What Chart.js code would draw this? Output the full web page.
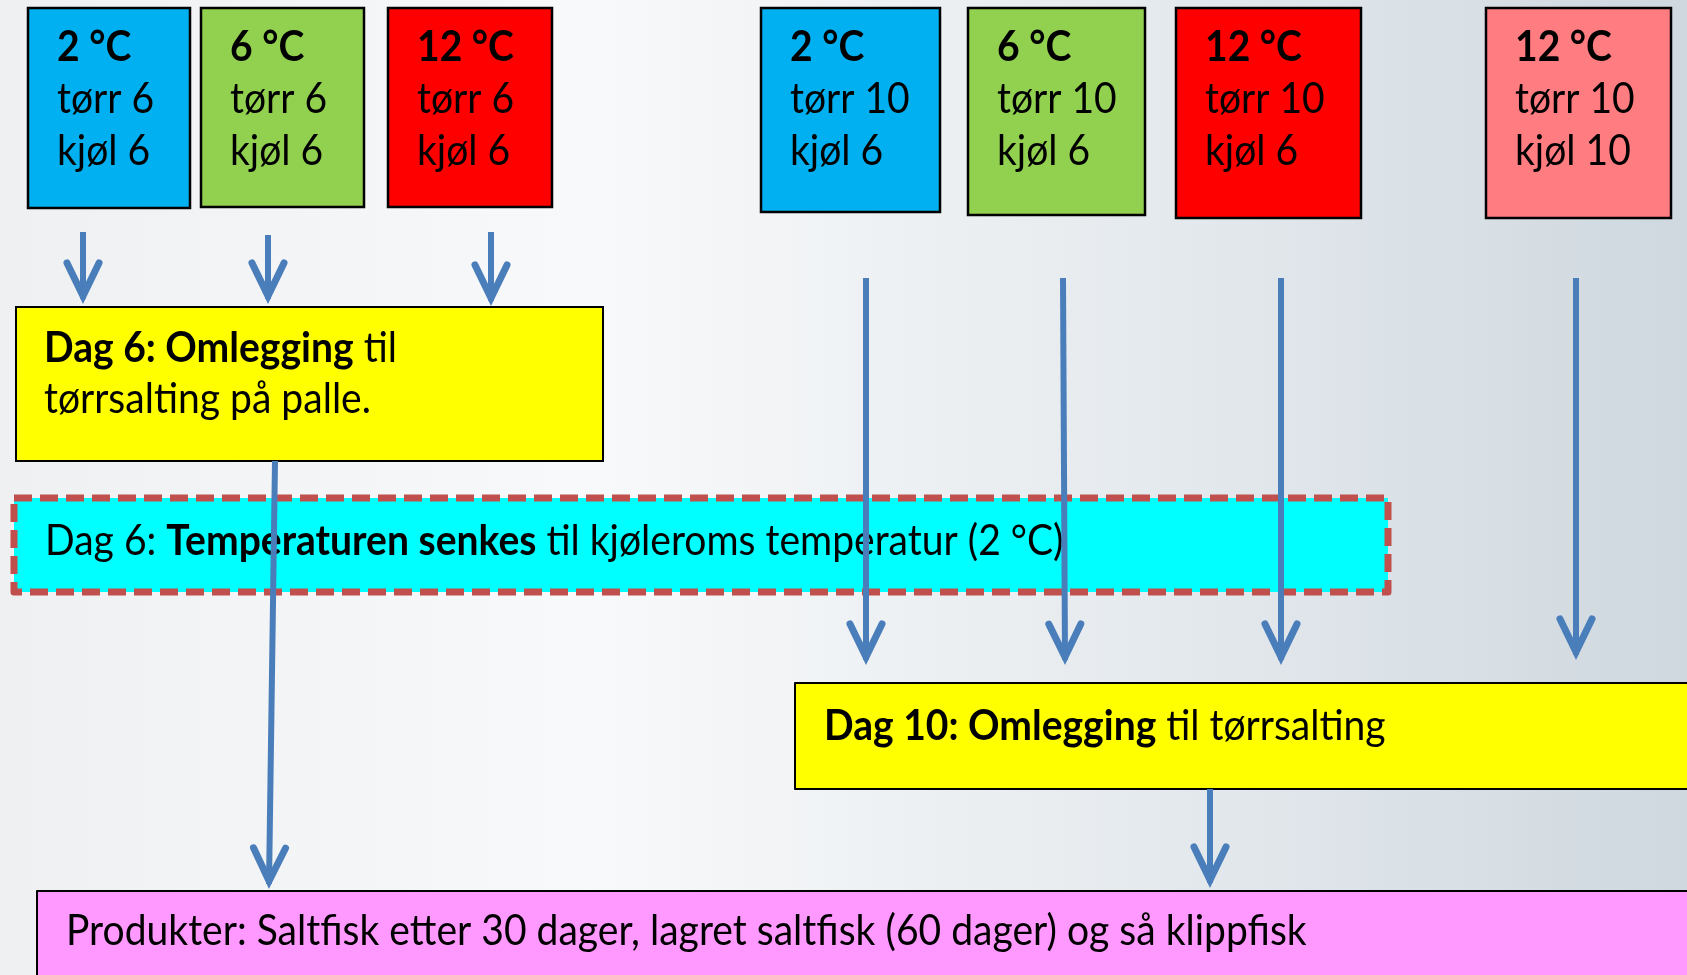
<!DOCTYPE html>
<html>
<head>
<meta charset="utf-8">
<script src="https://cdn.jsdelivr.net/npm/chart.js@4.4.1/dist/chart.umd.min.js"></script>
<style>
html, body { margin: 0; padding: 0; width: 1687px; height: 975px; overflow: hidden; background: #f3f5f7; }
canvas { display: block; }
</style>
</head>
<body>
<canvas id="flyt" width="1687" height="975"></canvas>
<script>
// Data: temperatur og dager i hvert forsøk
const temperaturer = ['2 °C', '6 °C', '12 °C', '2 °C', '6 °C', '12 °C', '12 °C'];
const torrDager = [6, 6, 6, 10, 10, 10, 10];
const kjolDager = [6, 6, 6, 6, 6, 6, 10];

// Tekst i stegene (b = fet skrift)
const omlegging6 = [
    [{ t: 'Dag 6: Omlegging', b: true }, { t: ' til', b: false }],
    [{ t: 'tørrsalting på palle.', b: false }]
];
const senking = [
    [{ t: 'Dag 6: ', b: false }, { t: 'Temperaturen senkes', b: true }, { t: ' til kjøleroms temperatur (2 °C)', b: false }]
];
const omlegging10 = [
    [{ t: 'Dag 10: Omlegging', b: true }, { t: ' til tørrsalting', b: false }]
];
const produkter = [
    [{ t: 'Produkter: Saltfisk etter 30 dager, lagret saltfisk (60 dager) og så klippfisk', b: false }]
];

// Plassering (diagram-koordinater, 1687 x 975)
const forsokFarger = ['#00B0F0', '#92D050', '#FF0000', '#00B0F0', '#92D050', '#FF0000', '#FF7C80'];
const forsokX0 = [28, 201, 388, 761, 968, 1176, 1486];
const forsokX1 = [190, 364, 552, 940, 1145, 1361, 1671];
const forsokY1 = [208, 207, 207, 212, 215, 218, 218];

const steg = [
    { linjer: omlegging6, x0: 16, x1: 603, y0: 307, y1: 461, fyll: '#FFFF00', tx: 44, ty: 348 },
    { linjer: senking, x0: 14, x1: 1388, y0: 498, y1: 592, fyll: '#00FFFF', tx: 45, ty: 541, stiplet: true },
    { linjer: omlegging10, x0: 795, x1: 1700, y0: 683, y1: 789, fyll: '#FFFF00', tx: 824, ty: 726 },
    { linjer: produkter, x0: 37, x1: 1700, y0: 891, y1: 990, fyll: '#FF99FF', tx: 66, ty: 931 }
];

// Piler: [x start, y start, x slutt, y slutt]
const piler = [
    [83, 232, 83, 303], [268, 235, 268, 303], [491, 232, 491, 305],
    [275, 461, 269, 888],
    [866, 278, 866, 664], [1063, 278, 1065, 664], [1281, 278, 1281, 664], [1576, 278, 1576, 659],
    [1210, 789, 1210, 887]
];

const FONT = 'Lato, "Open Sans", sans-serif';
const STR = 42;
const SMAL = 0.93;
const PILFARGE = '#4A7EBB';

function tegnLinje(ctx, deler, x, y, str) {
    ctx.save();
    ctx.translate(x, y);
    ctx.scale(SMAL, 1);
    ctx.textBaseline = 'middle';
    ctx.fillStyle = '#000';
    let dx = 0;
    deler.forEach(d => {
        ctx.font = (d.b ? 'bold ' : '') + str + 'px ' + FONT;
        ctx.fillText(d.t, dx, 0);
        dx += ctx.measureText(d.t).width;
    });
    ctx.restore();
}

const bakgrunn = {
    id: 'bakgrunn',
    beforeDraw(chart) {
        const ctx = chart.ctx;
        const g = ctx.createLinearGradient(0, 0, chart.width, 0);
        g.addColorStop(0, '#eef0f2');
        g.addColorStop(0.35, '#f8f9fa');
        g.addColorStop(0.7, '#e4e9ed');
        g.addColorStop(1, '#cfd8df');
        ctx.save();
        ctx.fillStyle = g;
        ctx.fillRect(0, 0, chart.width, chart.height);
        ctx.restore();
    }
};

const bokser = {
    id: 'bokser',
    beforeDatasetsDraw(chart) {
        const ctx = chart.ctx;
        const sx = chart.scales.x, sy = chart.scales.y;
        ctx.save();

        // Forsøksboksene øverst
        temperaturer.forEach((temp, i) => {
            const x0 = sx.getPixelForValue(forsokX0[i]);
            const x1 = sx.getPixelForValue(forsokX1[i]);
            const y0 = sy.getPixelForValue(8);
            const y1 = sy.getPixelForValue(forsokY1[i]);
            ctx.fillStyle = forsokFarger[i];
            ctx.fillRect(x0, y0, x1 - x0, y1 - y0);
            ctx.lineWidth = 2.5;
            ctx.strokeStyle = '#000';
            ctx.strokeRect(x0, y0, x1 - x0, y1 - y0);
            const tx = x0 + 29;
            tegnLinje(ctx, [{ t: temp, b: true }], tx, sy.getPixelForValue(47), STR);
            tegnLinje(ctx, [{ t: 'tørr ' + torrDager[i], b: false }], tx, sy.getPixelForValue(99), STR);
            tegnLinje(ctx, [{ t: 'kjøl ' + kjolDager[i], b: false }], tx, sy.getPixelForValue(151), STR);
        });

        // Stegene
        steg.forEach(s => {
            const x0 = sx.getPixelForValue(s.x0);
            const x1 = sx.getPixelForValue(s.x1);
            const y0 = sy.getPixelForValue(s.y0);
            const y1 = sy.getPixelForValue(s.y1);
            ctx.fillStyle = s.fyll;
            ctx.fillRect(x0, y0, x1 - x0, y1 - y0);
            if (s.stiplet) {
                ctx.setLineDash([18, 8]);
                ctx.lineWidth = 7;
                ctx.strokeStyle = '#C0504D';
                ctx.lineJoin = 'round';
            } else {
                ctx.setLineDash([]);
                ctx.lineWidth = 2;
                ctx.strokeStyle = '#000';
            }
            ctx.strokeRect(x0, y0, x1 - x0, y1 - y0);
            ctx.setLineDash([]);
            s.linjer.forEach((l, j) => {
                tegnLinje(ctx, l, sx.getPixelForValue(s.tx), sy.getPixelForValue(s.ty + j * 51), STR);
            });
        });
        ctx.restore();
    }
};

const pilspisser = {
    id: 'pilspisser',
    afterDatasetsDraw(chart) {
        const ctx = chart.ctx;
        ctx.save();
        ctx.strokeStyle = PILFARGE;
        ctx.lineWidth = 7;
        ctx.lineJoin = 'miter';
        ctx.lineCap = 'round';
        chart.data.datasets.forEach((ds, i) => {
            const pts = chart.getDatasetMeta(i).data;
            const a = pts[0], b = pts[pts.length - 1];
            const ang = Math.atan2(b.y - a.y, b.x - a.x);
            const len = 33, bredde = 16;
            const bx = b.x - 3 * Math.cos(ang), by = b.y - 3 * Math.sin(ang);
            const cx = bx - len * Math.cos(ang), cy = by - len * Math.sin(ang);
            const nx = -Math.sin(ang) * bredde, ny = Math.cos(ang) * bredde;
            ctx.beginPath();
            ctx.moveTo(cx + nx, cy + ny);
            ctx.lineTo(bx, by);
            ctx.lineTo(cx - nx, cy - ny);
            ctx.stroke();
        });
        ctx.restore();
    }
};

new Chart(document.getElementById('flyt'), {
    type: 'scatter',
    data: {
        datasets: piler.map(p => ({
            data: [{ x: p[0], y: p[1] }, { x: p[2], y: p[3] - 4 }],
            showLine: true,
            borderColor: PILFARGE,
            borderWidth: 6,
            pointRadius: 0,
            borderCapStyle: 'butt'
        }))
    },
    options: {
        responsive: false,
        animation: false,
        devicePixelRatio: 1,
        layout: { padding: 0 },
        plugins: { legend: { display: false }, tooltip: { enabled: false } },
        scales: {
            x: { type: 'linear', min: 0, max: 1687, display: false },
            y: { type: 'linear', min: 0, max: 975, reverse: true, display: false }
        }
    },
    plugins: [bakgrunn, bokser, pilspisser]
});
</script>
</body>
</html>
